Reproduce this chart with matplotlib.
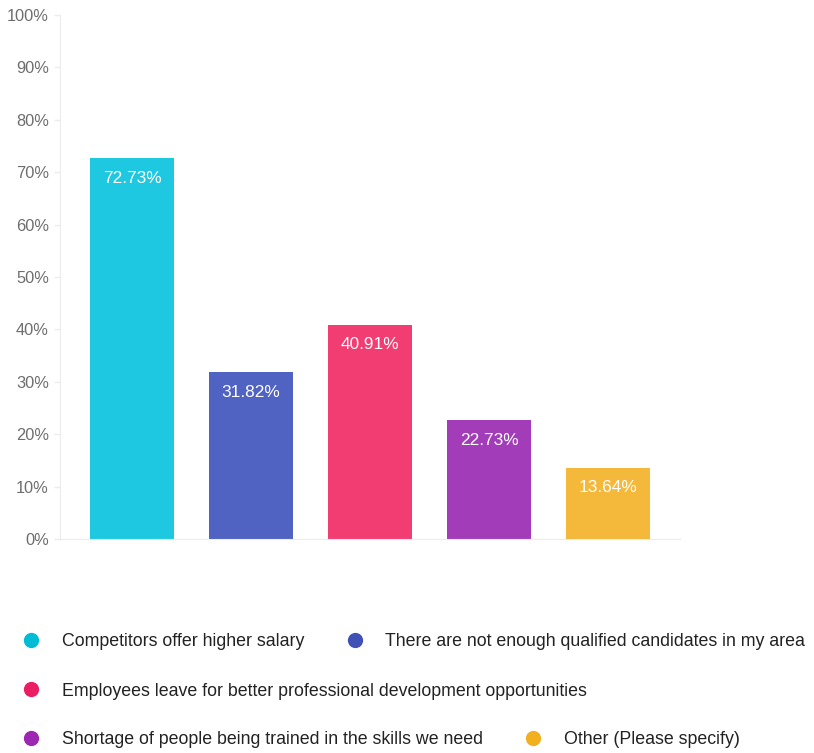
import matplotlib.pyplot as plt
from matplotlib.lines import Line2D

plt.rcParams['font.family'] = ['Liberation Sans', 'DejaVu Sans']

categories = ["Competitors offer higher salary",
              "There are not enough qualified candidates in my area",
              "Employees leave for better professional development opportunities",
              "Shortage of people being trained in the skills we need",
              "Other (Please specify)"]
values = [72.73, 31.82, 40.91, 22.73, 13.64]
bar_colors = ["#1EC8E0", "#5062C2", "#F23D73", "#A33CB8", "#F4B83A"]
dot_colors = ["#00BCD4", "#3F51B5", "#E91E63", "#9C27B0", "#F2B01E"]
yticks = [0, 10, 20, 30, 40, 50, 60, 70, 80, 90, 100]
# legend rows as they flow in the original
legend_rows = [[0, 1], [2], [3, 4]]

fig = plt.figure(figsize=(8.14, 7.53), dpi=100)
ax = fig.add_axes([60/814, 1 - 539/753, 620/814, 524/753])

x = range(len(values))
bars = ax.bar(x, values, width=0.706, color=bar_colors)
for xi, v in zip(x, values):
    ax.annotate(f"{v:.2f}%", (xi, v), xytext=(0, -14.5), textcoords='offset points',
                ha='center', va='center', color='white', fontsize=12.4)

ax.set_xlim(-0.605, 4.605)
ax.set_ylim(0, 100)
ax.set_yticks(yticks)
ax.set_yticklabels([f"{t}%" for t in yticks])
ax.set_xticks([])
ax.tick_params(axis='y', colors='#ececec', labelcolor='#6e6e6e', labelsize=11.8,
               length=4, width=1, pad=4)
for s in ['top', 'right']:
    ax.spines[s].set_visible(False)
ax.spines['left'].set_color('#ececec')
ax.spines['bottom'].set_color('#ececec')

row_y = [1 - 642/753, 1 - 691/753, 1 - 740/753]
for row, yy in zip(legend_rows, row_y):
    handles = [Line2D([], [], marker='o', linestyle='none', markersize=11,
                      markerfacecolor=dot_colors[i], markeredgecolor='none') for i in row]
    labels = [categories[i] for i in row]
    leg = fig.legend(handles, labels, loc='center left', bbox_to_anchor=(22/814, yy),
                     ncol=len(row), frameon=False, fontsize=12.8, handlelength=1.0,
                     handletextpad=1.23, columnspacing=2.35, borderaxespad=0, borderpad=0)
    for t in leg.get_texts():
        t.set_color('#222222')

fig.savefig("out.png", dpi=100)
